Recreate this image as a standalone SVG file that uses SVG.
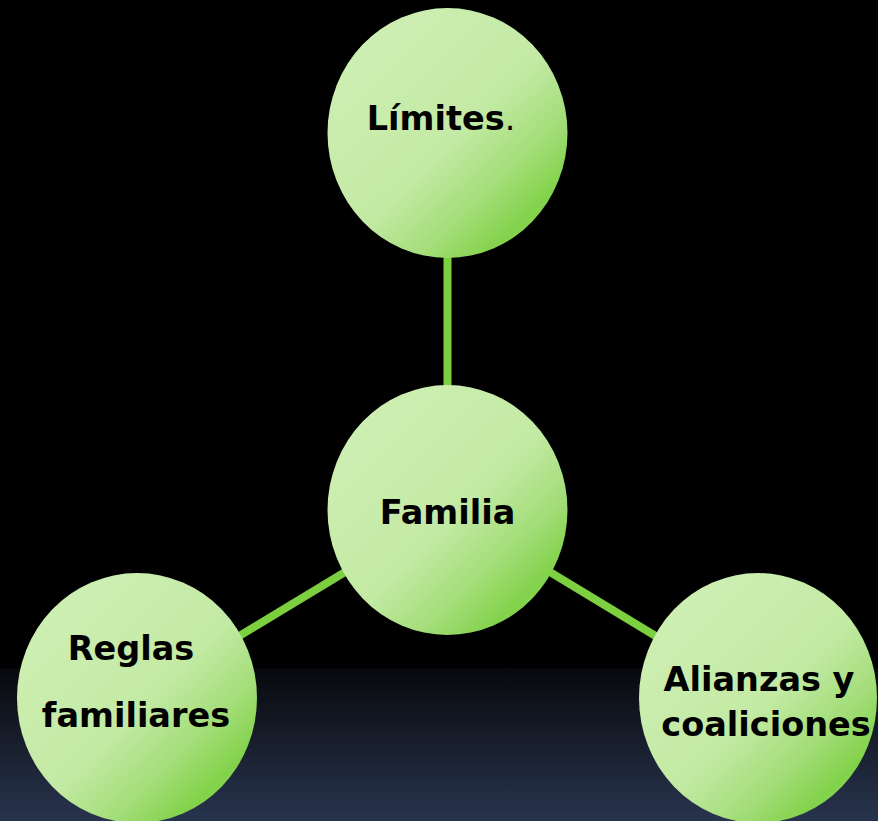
<svg xmlns="http://www.w3.org/2000/svg" width="878" height="821" viewBox="0 0 878 821">
  <defs>
    <linearGradient id="bg" x1="0" y1="0" x2="0" y2="1">
      <stop offset="0" stop-color="#000000"/>
      <stop offset="0.813" stop-color="#000000"/>
      <stop offset="0.815" stop-color="#08090d"/>
      <stop offset="1" stop-color="#28344e"/>
    </linearGradient>
    <linearGradient id="nodeFill" x1="0.1" y1="0.1" x2="0.85" y2="0.9">
      <stop offset="0" stop-color="#cfefb4"/>
      <stop offset="0.55" stop-color="#c3eaa4"/>
      <stop offset="0.78" stop-color="#a3dd78"/>
      <stop offset="0.95" stop-color="#82d24a"/>
      <stop offset="1" stop-color="#8ad557"/>
    </linearGradient>
    <style>
      .node { fill: url(#nodeFill); }
      .conn { stroke: #7ccf3f; stroke-width: 8; fill: none; }
      .lbl { font-family: "DejaVu Sans", Verdana, sans-serif; font-weight: bold; font-size: 33.5px; fill: #000000; text-anchor: middle; }
    </style>
  </defs>
  <rect x="0" y="0" width="878" height="821" fill="url(#bg)"/>
  <g id="connectors">
    <line class="conn" x1="447.5" y1="133" x2="447.5" y2="510"/>
    <line class="conn" x1="447.5" y1="510" x2="137" y2="698"/>
    <line class="conn" x1="447.5" y1="510" x2="758" y2="698"/>
  </g>
  <g id="node-limites">
    <ellipse class="node" cx="447.5" cy="133" rx="120" ry="125"/>
    <text class="lbl" x="441" y="130">Límites<tspan font-weight="normal">.</tspan></text>
  </g>
  <g id="node-familia">
    <ellipse class="node" cx="447.5" cy="510" rx="120" ry="125"/>
    <text class="lbl" x="447.5" y="524">Familia</text>
  </g>
  <g id="node-reglas">
    <ellipse class="node" cx="137" cy="698" rx="120" ry="125"/>
    <text class="lbl" x="131" y="660">Reglas</text>
    <text class="lbl" x="136" y="727">familiares</text>
  </g>
  <g id="node-alianzas">
    <ellipse class="node" cx="758" cy="698" rx="119" ry="125"/>
    <text class="lbl" x="759" y="691">Alianzas y</text>
    <text class="lbl" x="766" y="736">coaliciones</text>
  </g>
</svg>
